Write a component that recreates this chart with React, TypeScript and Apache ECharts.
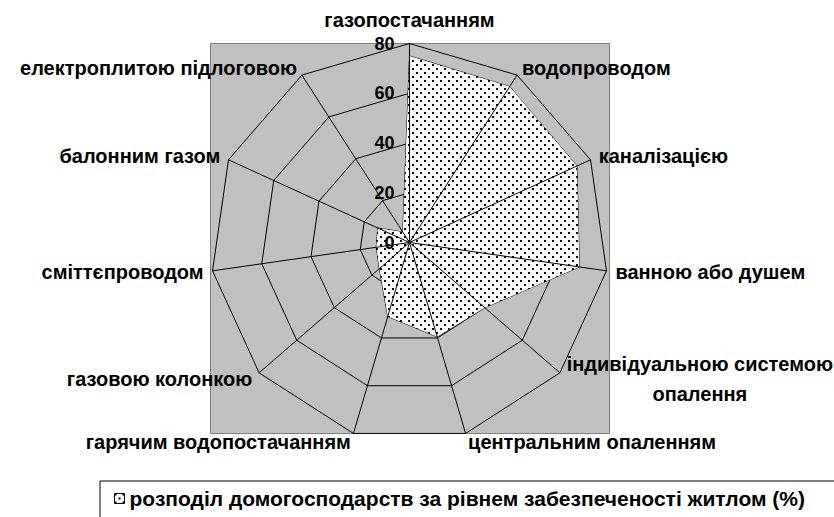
import React, { useEffect, useRef } from 'react';
import * as echarts from 'echarts';

// Categories in the reference's clockwise order, starting at the top
const categories = [
  'газопостачанням',
  'водопроводом',
  'каналізацією',
  'ванною або душем',
  'індивідуальною системою\nопалення',
  'центральним опаленням',
  'гарячим водопостачанням',
  'газовою колонкою',
  'сміттєпроводом',
  'балонним газом',
  'електроплитою підлоговою',
];
const values = [75, 74.5, 74, 69, 40, 39.5, 31, 16, 13.5, 14, 5];
const seriesName = 'розподіл домогосподарств за рівнем забезпеченості житлом (%)';
const axisMin = 0;
const axisMax = 80;
const axisStep = 20;

const FONT = '"Liberation Sans", Arial, sans-serif';

function makePattern(): HTMLCanvasElement {
  const c = document.createElement('canvas');
  c.width = 8;
  c.height = 8;
  const ctx = c.getContext('2d')!;
  ctx.fillStyle = '#ffffff';
  ctx.fillRect(0, 0, 8, 8);
  ctx.fillStyle = '#000000';
  ctx.fillRect(0, 0, 2, 2);
  ctx.fillRect(4, 4, 2, 2);
  return c;
}

export default function App() {
  const ref = useRef<HTMLDivElement>(null);

  useEffect(() => {
    document.body.style.margin = '0';
    if (!ref.current) return;
    const chart = echarts.init(ref.current, undefined, { renderer: 'svg' });

    // ECharts lays radar indicators counter-clockwise; reverse to get clockwise order
    const n = categories.length;
    const order = [0];
    for (let i = n - 1; i >= 1; i--) order.push(i);
    const indicator = order.map((i) => ({ name: categories[i], min: axisMin, max: axisMax }));
    const data = order.map((i) => values[i]);

    const canvas = makePattern();
    const pattern: any = { image: canvas, repeat: 'repeat' };

    const center = [409.5, 242.5];
    const radius = 199;
    const nameStyle = {
      color: '#000',
      fontSize: 20,
      fontWeight: 'bold',
      fontFamily: FONT,
    };

    const option: any = {
      animation: false,
      backgroundColor: '#ffffff',
      graphic: [
        {
          type: 'rect',
          left: 210,
          top: 43,
          z: -10,
          shape: { width: 399, height: 390 },
          style: { fill: '#C0C0C0', stroke: '#808080', lineWidth: 1 },
        },
      ],
      radar: [
        {
          center,
          radius,
          startAngle: 90,
          shape: 'polygon',
          splitNumber: (axisMax - axisMin) / axisStep,
          indicator,
          nameGap: 9,
          axisName: {
            ...nameStyle,
            formatter: (name: string) => {
              if (name === categories[0]) return '{t|' + name + '}';
              if (name.indexOf('\n') >= 0) {
                return name
                  .split('\n')
                  .map((s) => '{c|' + s + '}')
                  .join('\n');
              }
              return name;
            },
            rich: {
              c: { ...nameStyle, align: 'center', lineHeight: 30 },
              t: { ...nameStyle, padding: [0, 0, 5, 0] },
            },
          },
          axisLine: { show: false },
          axisTick: { show: false },
          axisLabel: { show: false },
          splitLine: { lineStyle: { color: '#000', width: 1 } },
          splitArea: { show: false },
          z: 1,
        },
        {
          center,
          radius,
          startAngle: 90,
          shape: 'polygon',
          splitNumber: (axisMax - axisMin) / axisStep,
          indicator,
          axisName: { show: false },
          axisLine: { show: true, lineStyle: { color: '#000', width: 1 } },
          axisTick: { show: false },
          axisLabel: { show: false },
          splitLine: { show: false },
          splitArea: { show: false },
          z: 5,
        },
      ],
      polar: { center, radius },
      angleAxis: { show: false, startAngle: 90, min: 0, max: 360 },
      radiusAxis: {
        min: axisMin,
        max: axisMax,
        interval: axisStep,
        axisLine: { show: false },
        axisTick: { show: false },
        splitLine: { show: false },
        axisLabel: {
          color: '#000',
          fontSize: 18,
          fontWeight: 'bold',
          fontFamily: FONT,
          margin: 15,
        },
        z: 10,
      },
      legend: {
        left: 100,
        top: 481,
        orient: 'horizontal',
        selectedMode: false,
        data: [
          {
            name: seriesName,
            icon: 'rect',
            itemStyle: { color: pattern, borderColor: '#000', borderWidth: 1 },
          },
        ],
        itemWidth: 10,
        itemHeight: 10,
        padding: [7, 120, 80, 14],
        borderColor: '#000',
        borderWidth: 1,
        textStyle: { color: '#000', fontSize: 21, fontWeight: 'bold', fontFamily: FONT },
      },
      series: [
        {
          type: 'radar',
          name: seriesName,
          radarIndex: 0,
          symbol: 'none',
          z: 2,
          lineStyle: { color: '#000', width: 1 },
          itemStyle: { color: '#000' },
          areaStyle: { color: pattern, opacity: 1 },
          data: [{ name: seriesName, value: data }],
        },
      ],
    };

    chart.setOption(option);
    return () => chart.dispose();
  }, []);

  return <div ref={ref} style={{ width: 834, height: 517 }} />;
}
